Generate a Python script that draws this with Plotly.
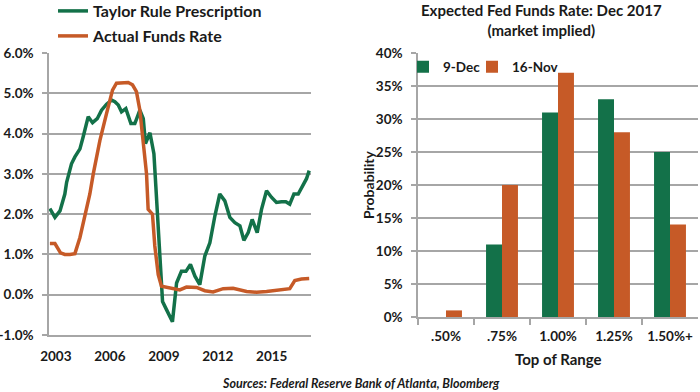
import plotly.graph_objects as go

# ---- Left chart data (decimal years, percent) ----
taylor_x = [2002.67, 2002.95, 2003.23, 2003.50, 2003.60, 2003.87, 2004.06, 2004.34, 2004.52, 2004.80,
            2005.04, 2005.30, 2005.54, 2005.82, 2006.10, 2006.28, 2006.47, 2006.65, 2006.89, 2007.17,
            2007.39, 2007.67, 2007.86, 2007.98, 2008.23, 2008.45, 2008.56, 2008.74, 2008.93, 2009.15,
            2009.48, 2009.71, 2009.98, 2010.23, 2010.48, 2010.73, 2011.00, 2011.28, 2011.56, 2011.84,
            2012.11, 2012.39, 2012.67, 2012.95, 2013.23, 2013.45, 2013.69, 2013.91, 2014.19, 2014.43,
            2014.71, 2014.98, 2015.26, 2015.54, 2015.78, 2016.00, 2016.23, 2016.47, 2016.74, 2016.93,
            2017.08]
taylor_y = [2.14, 1.92, 2.08, 2.50, 2.79, 3.25, 3.42, 3.62, 3.92, 4.42,
            4.27, 4.37, 4.58, 4.73, 4.83, 4.79, 4.71, 4.54, 4.62, 4.25,
            4.25, 4.58, 4.37, 3.75, 4.02, 3.50, 2.67, 1.20, -0.17, -0.37,
            -0.67, 0.29, 0.58, 0.58, 0.75, 0.46, 0.25, 0.96, 1.29, 1.96,
            2.50, 2.33, 1.92, 1.79, 1.71, 1.35, 1.54, 1.87, 1.54, 2.12,
            2.58, 2.42, 2.29, 2.31, 2.31, 2.25, 2.50, 2.50, 2.71, 2.88,
            3.08]

funds_x = [2002.67, 2002.95, 2003.26, 2003.50, 2003.78, 2004.06, 2004.34, 2004.61, 2004.89, 2005.08,
           2005.45, 2005.82, 2006.15, 2006.37, 2006.65, 2007.02, 2007.26, 2007.48, 2007.67, 2007.86,
           2008.04, 2008.13, 2008.37, 2008.50, 2008.69, 2008.87, 2009.15, 2009.52, 2009.89, 2010.26,
           2010.82, 2011.28, 2011.74, 2012.30, 2012.85, 2013.60, 2014.15, 2014.71, 2015.45, 2016.00,
           2016.28, 2016.65, 2017.08]
funds_y = [1.27, 1.27, 1.04, 1.00, 1.00, 1.02, 1.42, 1.96, 2.50, 3.00,
           3.83, 4.50, 5.08, 5.25, 5.25, 5.27, 5.21, 5.04, 4.58, 3.83,
           3.00, 2.12, 2.00, 1.21, 0.50, 0.21, 0.18, 0.14, 0.12, 0.19,
           0.18, 0.10, 0.07, 0.15, 0.16, 0.08, 0.06, 0.08, 0.11, 0.15,
           0.35, 0.39, 0.40]

year_ticks = [2003, 2006, 2009, 2012, 2015]
year_labels = ["2003", "2006", "2009", "2012", "2015"]
pct_ticks = [-1, 0, 1, 2, 3, 4, 5, 6]
pct_labels = ["-1.0%", "0.0%", "1.0%", "2.0%", "3.0%", "4.0%", "5.0%", "6.0%"]

# ---- Right chart data ----
ranges = [".50%", ".75%", "1.00%", "1.25%", "1.50%+"]
dec9 = [0, 11, 31, 33, 25]
nov16 = [1, 20, 37, 28, 14]
prob_ticks = [0, 5, 10, 15, 20, 25, 30, 35, 40]
prob_labels = ["0%", "5%", "10%", "15%", "20%", "25%", "30%", "35%", "40%"]

GREEN = "#137149"
ORANGE = "#c65a27"
GRID = "#a6a6a6"
FONT = "Lato"
TXT = "#1a1a1a"
W, H = 700, 392

fig = go.Figure()
fig.add_trace(go.Scatter(x=taylor_x, y=taylor_y, mode="lines", name="Taylor Rule Prescription",
                         line=dict(color=GREEN, width=3.5), xaxis="x", yaxis="y", legend="legend"))
fig.add_trace(go.Scatter(x=funds_x, y=funds_y, mode="lines", name="Actual Funds Rate",
                         line=dict(color=ORANGE, width=3.5), xaxis="x", yaxis="y", legend="legend3"))
fig.add_trace(go.Bar(x=ranges, y=dec9, name="9-Dec", marker=dict(color=GREEN, line=dict(width=0)),
                     xaxis="x2", yaxis="y2", legend="legend2"))
fig.add_trace(go.Bar(x=ranges, y=nov16, name="16-Nov", marker=dict(color=ORANGE, line=dict(width=0)),
                     xaxis="x2", yaxis="y2", legend="legend4"))

def px_x(p):
    return p / W

def px_y(p):
    return 1 - p / H

tick_font = dict(family=FONT, size=13.5, color=TXT, weight="bold")
leg_font_big = dict(family=FONT, size=16, color=TXT, weight="bold")
leg_font_small = dict(family=FONT, size=13.5, color=TXT, weight="bold")

def leg(xp, yp, font, anchor="middle"):
    return dict(x=px_x(xp), y=px_y(yp), xanchor="left", yanchor=anchor, orientation="v",
                bgcolor="rgba(0,0,0,0)", borderwidth=0, font=font, visible=True)

fig.update_layout(
    width=W, height=H,
    showlegend=True,
    hovermode=False,
    margin=dict(l=0, r=0, t=0, b=0, autoexpand=False),
    paper_bgcolor="white", plot_bgcolor="white",
    font=dict(family=FONT, color=TXT),
    barmode="group", bargap=0.43, bargroupgap=0,
    xaxis=dict(domain=[px_x(49), px_x(311)], range=[2002.62, 2017.18], anchor="y",
               tickvals=year_ticks, ticktext=year_labels, showgrid=False, zeroline=False,
               showline=True, linecolor=GRID, linewidth=1.5, ticks="", tickfont=tick_font,
               ticklabelstandoff=8, automargin=False),
    yaxis=dict(domain=[px_y(335), px_y(53)], range=[-1, 6], anchor="x",
               tickvals=pct_ticks, ticktext=pct_labels,
               showgrid=True, gridcolor=GRID, gridwidth=1.5, zeroline=False,
               showline=True, linecolor=GRID, linewidth=1.5, ticks="outside", ticklen=5,
               tickcolor=GRID, tickwidth=1.5, tickfont=tick_font, ticklabelstandoff=6,
               automargin=False),
    xaxis2=dict(domain=[px_x(418), px_x(698)], anchor="y2", type="category", showgrid=False,
                showline=True, linecolor=GRID, linewidth=1.5, ticks="outside", tickson="boundaries",
                ticklen=6, tickcolor=GRID, tickwidth=1.5, tickfont=tick_font, ticklabelstandoff=6,
                automargin=False),
    yaxis2=dict(domain=[px_y(317), px_y(53)], anchor="x2", range=[0, 40],
                tickvals=prob_ticks, ticktext=prob_labels,
                showgrid=True, gridcolor=GRID, gridwidth=1.5, zeroline=False,
                showline=True, linecolor=GRID, linewidth=1.5, ticks="outside", ticklen=5,
                tickcolor=GRID, tickwidth=1.5, tickfont=tick_font, ticklabelstandoff=6,
                automargin=False),
    legend=leg(53, -6, leg_font_big, anchor="top"),
    legend3=leg(53, 36, leg_font_big),
    legend2=leg(403, 67, leg_font_small),
    legend4=leg(472, 67, leg_font_small),
    annotations=[
        dict(text="Expected Fed Funds Rate: Dec 2017<br>(market implied)", x=px_x(541), y=px_y(-1),
             xref="paper", yref="paper", xanchor="center", yanchor="top", showarrow=False,
             font=dict(family=FONT, size=15, color=TXT, weight="bold")),
        dict(text="Probability", x=px_x(369), y=px_y(185), xref="paper", yref="paper",
             xanchor="center", yanchor="middle", textangle=-90, showarrow=False,
             font=dict(family=FONT, size=14, color=TXT, weight="bold")),
        dict(text="Top of Range", x=px_x(558), y=px_y(359), xref="paper", yref="paper",
             xanchor="center", yanchor="middle", showarrow=False,
             font=dict(family=FONT, size=15, color=TXT, weight="bold")),
        dict(text="<i>Sources: Federal Reserve Bank of Atlanta, Bloomberg</i>", x=px_x(361), y=px_y(383),
             xref="paper", yref="paper", xanchor="center", yanchor="middle", showarrow=False,
             font=dict(family=FONT, size=12.5, color=TXT, weight="bold")),
    ],
)

fig.write_html("out.html", config={"displayModeBar": False},
               post_script="document.body.style.margin='0';")
